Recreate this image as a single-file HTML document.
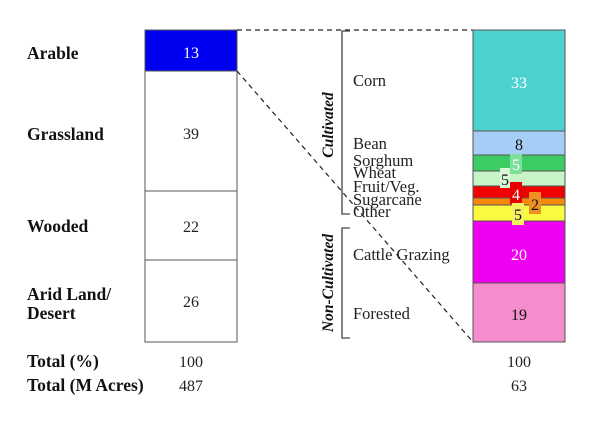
<!DOCTYPE html><html><head><style>body{margin:0;background:#fff}</style></head><body>
<svg width="611" height="433" xmlns="http://www.w3.org/2000/svg" font-family="Liberation Serif, serif">
<rect width="611" height="433" fill="#fff"/>
<g font-weight="bold" font-size="17.5" fill="#111">
<text x="27" y="59">Arable</text>
<text x="27" y="140">Grassland</text>
<text x="27" y="232">Wooded</text>
<text x="27" y="300">Arid Land/</text>
<text x="27" y="319">Desert</text>
<text x="27" y="367">Total (%)</text>
<text x="27" y="391">Total (M Acres)</text>
</g>
<g stroke="#555" stroke-width="1">
<rect x="145" y="30" width="92" height="41" fill="#0000f0"/>
<rect x="145" y="71" width="92" height="120" fill="#fff"/>
<rect x="145" y="191" width="92" height="69" fill="#fff"/>
<rect x="145" y="260" width="92" height="82" fill="#fff"/>
</g>
<g font-size="16" text-anchor="middle" fill="#222">
<text x="191" y="58" fill="#fff">13</text>
<text x="191" y="139">39</text>
<text x="191" y="232">22</text>
<text x="191" y="307">26</text>
<text x="191" y="367">100</text>
<text x="191" y="391">487</text>
<text x="519" y="367">100</text>
<text x="519" y="391">63</text>
</g>
<g stroke="#222" stroke-dasharray="5,4" stroke-width="1.2">
<line x1="237" y1="30" x2="473" y2="30"/>
<line x1="237" y1="71" x2="473" y2="342"/>
</g>
<g stroke="#555" stroke-width="1">
<rect x="473" y="30" width="92" height="101" fill="#4dd1d1"/>
<rect x="473" y="131" width="92" height="24" fill="#a6cdf5"/>
<rect x="473" y="155" width="92" height="16" fill="#3dcb63"/>
<rect x="473" y="171" width="92" height="15" fill="#c8f5c8"/>
<rect x="473" y="186" width="92" height="12" fill="#f00000"/>
<rect x="473" y="198" width="92" height="7" fill="#f58a0a"/>
<rect x="473" y="205" width="92" height="16" fill="#fafa40"/>
<rect x="473" y="221" width="92" height="62" fill="#f000f0"/>
<rect x="473" y="283" width="92" height="59" fill="#f58ccc"/>
</g>
<rect x="510" y="154" width="12" height="20" fill="#7de09a"/>
<rect x="500" y="168" width="10" height="20" fill="#d8f8d8"/>
<rect x="510" y="182" width="12" height="22" fill="#e80000"/>
<rect x="529" y="192" width="12" height="22" fill="#f09020"/>
<rect x="512" y="203" width="12" height="22" fill="#f5f060"/>
<g font-size="16" text-anchor="middle">
<text x="519" y="88" fill="#fff">33</text>
<text x="519" y="150" fill="#111">8</text>
<text x="516" y="170" fill="#fff">5</text>
<text x="505" y="185" fill="#111">5</text>
<text x="516" y="200" fill="#fff">4</text>
<text x="535" y="210" fill="#111">2</text>
<text x="518" y="220" fill="#111">5</text>
<text x="519" y="260" fill="#fff">20</text>
<text x="519" y="320" fill="#111">19</text>
</g>
<g fill="none" stroke="#444" stroke-width="1.3">
<polyline points="350,31 342,31 342,214 350,214"/>
<polyline points="350,228 342,228 342,338 350,338"/>
</g>
<g font-size="16.5" fill="#222">
<text x="353" y="86">Corn</text>
<text x="353" y="149">Bean</text>
<text x="353" y="166">Sorghum</text>
<text x="353" y="178">Wheat</text>
<text x="353" y="192">Fruit/Veg.</text>
<text x="353" y="205">Sugarcane</text>
<text x="353" y="217">Other</text>
<text x="353" y="260">Cattle Grazing</text>
<text x="353" y="319">Forested</text>
</g>
<g font-size="15.5" font-weight="bold" font-style="italic" fill="#111" text-anchor="middle">
<text transform="translate(333,125) rotate(-90)">Cultivated</text>
<text transform="translate(333,283) rotate(-90)">Non-Cultivated</text>
</g>
</svg>
</body></html>
